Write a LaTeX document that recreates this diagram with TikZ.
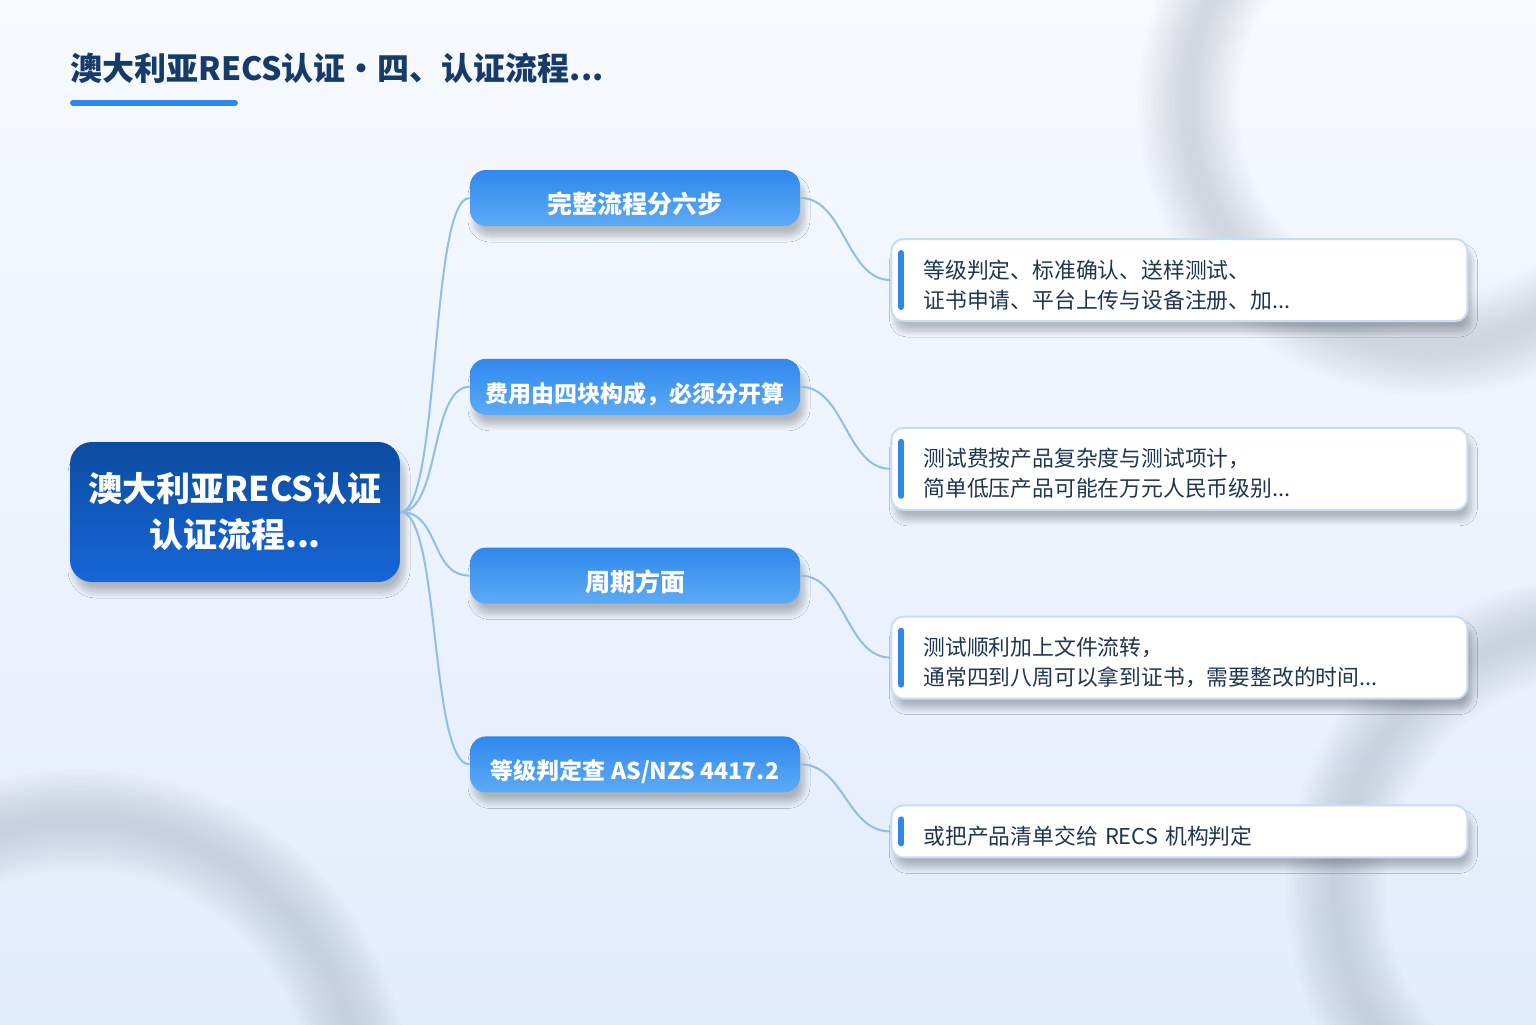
\documentclass[tikz,border=0pt]{standalone}
\usepackage{fontspec}
\setmainfont{Noto Sans CJK SC}
\usetikzlibrary{positioning,shadows.blur}

\definecolor{pageTop}{HTML}{F7FAFE}
\definecolor{pageBot}{HTML}{E2EDFC}
\definecolor{ringGrey}{HTML}{7F8A99}
\definecolor{titleInk}{HTML}{163B68}
\definecolor{accentBlue}{HTML}{2F87EB}
\definecolor{rootTop}{HTML}{0C4CA0}
\definecolor{rootBot}{HTML}{1666D9}
\definecolor{branchTop}{HTML}{2F88EC}
\definecolor{branchBot}{HTML}{5DABF6}
\definecolor{linkBlue}{HTML}{90BEEA}
\definecolor{leafEdge}{HTML}{C5DDF6}
\definecolor{leafInk}{HTML}{1F3653}

\begin{document}
\begin{tikzpicture}[
  x=1pt, y=1pt,
  node distance=66pt and 45pt,
  every node/.style={align=center},
  softshadow/.style={blur shadow={shadow xshift=2pt, shadow yshift=-5pt, shadow opacity=25, shadow blur steps=12, shadow blur radius=3pt}},
  root/.style={rounded corners=11pt, top color=rootTop, bottom color=rootBot, text=white, font=\bfseries\fontsize{17}{23}\selectfont, minimum width=165pt, minimum height=70pt, inner sep=0pt, execute at begin node={\rule{0pt}{22pt}}, softshadow},
  branch/.style={rounded corners=8pt, top color=branchTop, bottom color=branchBot, text=white, font=\bfseries\fontsize{12.5}{15}\selectfont, minimum width=165pt, minimum height=28pt, inner sep=0pt, execute at begin node={\rule{0pt}{17pt}}, softshadow},
  leaf/.style={draw=leafEdge, line width=1pt, rounded corners=6pt, fill=white, text=leafInk, font=\fontsize{10.9}{15}\selectfont, align=left, text width=256pt, inner xsep=16pt, inner ysep=0pt, minimum height=41pt, execute at begin node={\rule{0pt}{14pt}}, softshadow},
  bar/.style={accentBlue, line width=3pt, line cap=round},
  link/.style={linkBlue, line width=1pt}
]

% page and soft rings
\useasboundingbox (0,0) rectangle (768,-512);
\fill[top color=pageTop, bottom color=pageBot] (0,0) rectangle (768,-512);
\begin{scope}
  \clip (0,0) rectangle (768,-512);
  \foreach \w in {50,46,...,6} {
    \draw[ringGrey, line width=\w pt, opacity=0.025] (715,-52) circle (121);
    \draw[ringGrey, line width=\w pt, opacity=0.025] (40,-550) circle (140);
    \draw[ringGrey, line width=\w pt, opacity=0.025] (800,-445) circle (132);
  }
\end{scope}

% title
\node[anchor=base west, inner sep=0pt, text=titleInk, font=\bfseries\fontsize{16}{16}\selectfont] (title) at (35,-40) {澳大利亚RECS认证・四、认证流程...};
\draw[bar] (36.5,-51.5) -- (117.5,-51.5);

% mind map
\node[root] (root) at (117.5,-256) {澳大利亚RECS认证\\认证流程...};
\node[branch] (steps) at (317.5,-99) {完整流程分六步};
\node[branch, below=of steps] (cost) {\fontsize{11.5}{14}\selectfont 费用由四块构成，必须分开算};
\node[branch, below=of cost] (cycle) {周期方面};
\node[branch, below=of cycle] (grade) {\fontsize{11.5}{14}\selectfont 等级判定查 AS/NZS 4417.2};

\node[leaf, below right=20pt and 45pt of steps.east] (stepsTxt) {等级判定、标准确认、送样测试、\\证书申请、平台上传与设备注册、加...};
\node[leaf, below right=20pt and 45pt of cost.east] (costTxt) {测试费按产品复杂度与测试项计，\\简单低压产品可能在万元人民币级别...};
\node[leaf, below right=20pt and 45pt of cycle.east] (cycleTxt) {测试顺利加上文件流转，\\通常四到八周可以拿到证书，需要整改的时间...};
\node[leaf, minimum height=26pt, below right=20pt and 45pt of grade.east] (gradeTxt) {或把产品清单交给 RECS 机构判定};

\draw[bar] ([xshift=5.5pt,yshift=-7.5pt]stepsTxt.north west) -- ([xshift=5.5pt,yshift=7.5pt]stepsTxt.south west);
\draw[bar] ([xshift=5.5pt,yshift=-7.5pt]costTxt.north west) -- ([xshift=5.5pt,yshift=7.5pt]costTxt.south west);
\draw[bar] ([xshift=5.5pt,yshift=-7.5pt]cycleTxt.north west) -- ([xshift=5.5pt,yshift=7.5pt]cycleTxt.south west);
\draw[bar] ([xshift=5.5pt,yshift=-7.5pt]gradeTxt.north west) -- ([xshift=5.5pt,yshift=7.5pt]gradeTxt.south west);

\draw[link] (root.east) .. controls +(20,0) and +(-20,0) .. (steps.west);
\draw[link] (root.east) .. controls +(20,0) and +(-20,0) .. (cost.west);
\draw[link] (root.east) .. controls +(20,0) and +(-20,0) .. (cycle.west);
\draw[link] (root.east) .. controls +(20,0) and +(-20,0) .. (grade.west);

\draw[link] (steps.east) .. controls +(22,0) and +(-22,0) .. (stepsTxt.west);
\draw[link] (cost.east) .. controls +(22,0) and +(-22,0) .. (costTxt.west);
\draw[link] (cycle.east) .. controls +(22,0) and +(-22,0) .. (cycleTxt.west);
\draw[link] (grade.east) .. controls +(22,0) and +(-22,0) .. (gradeTxt.west);
\end{tikzpicture}
\end{document}
